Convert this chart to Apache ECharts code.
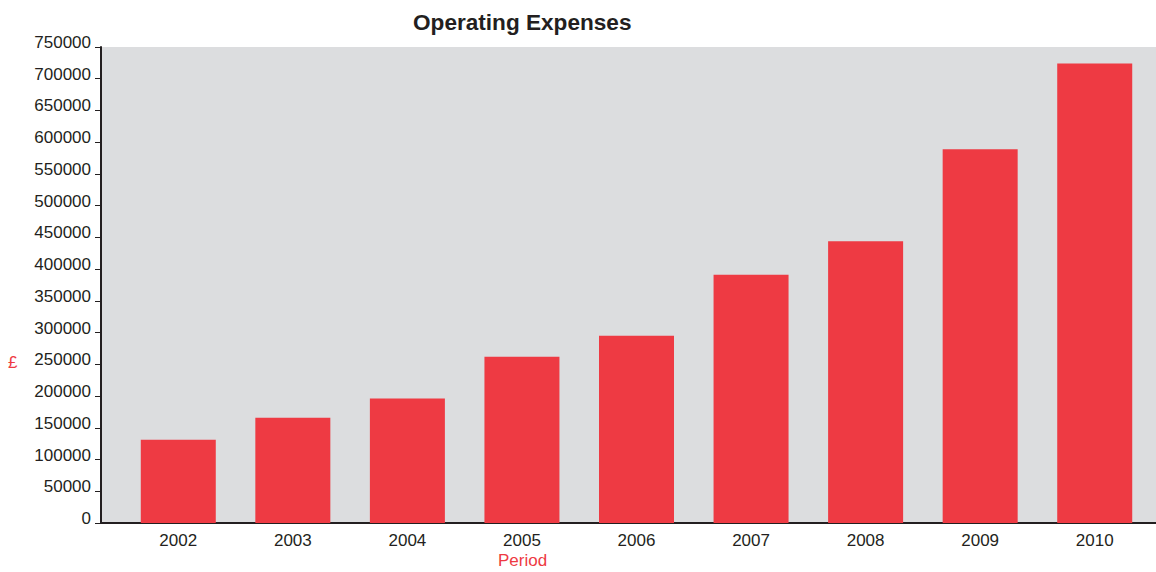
<!DOCTYPE html>
<html>
<head>
<meta charset="utf-8">
<title>Operating Expenses</title>
<script src="https://cdn.jsdelivr.net/npm/echarts@6/dist/echarts.min.js"></script>
<style>
  html, body { margin: 0; padding: 0; background: #ffffff; }
  #chart { width: 1156px; height: 572px; }
</style>
</head>
<body>
<div id="chart"></div>
<script>
// Operating expenses per year, in pounds
const periods = ['2002', '2003', '2004', '2005', '2006', '2007', '2008', '2009', '2010'];
const expenses = [131000, 166000, 196000, 262000, 295000, 391000, 444000, 589000, 724000];
const chartTitle = 'Operating Expenses';
const xAxisTitle = 'Period';
const yAxisTitle = '£';

const FONT = '"Liberation Sans", Arial, Helvetica, sans-serif';
const INK = '#231f20';
const RED = '#ee3a43';
const PANEL = '#dcdddf';
const Y_MAX = 750000;
const Y_STEP = 50000;

const chart = echarts.init(document.getElementById('chart'), null, { renderer: 'svg' });

chart.setOption({
  animation: false,
  backgroundColor: '#ffffff',
  title: {
    text: chartTitle,
    left: 408,
    top: 6,
    textStyle: { fontFamily: FONT, fontSize: 22.6, fontWeight: 'bold', color: INK }
  },
  grid: [
    // grey panel carrying the value axis and the baseline
    { left: 101, right: 0, top: 47, bottom: 49, show: true, backgroundColor: PANEL, borderWidth: 0 },
    // band layout for the bars
    { left: 121, right: 4, top: 47, bottom: 49, show: false }
  ],
  xAxis: [
    {
      gridIndex: 0, type: 'value', min: 0, max: 1,
      axisLine: { show: true, lineStyle: { color: INK, width: 2 } },
      axisTick: { show: false }, axisLabel: { show: false }, splitLine: { show: false }
    },
    {
      gridIndex: 1, type: 'category', data: periods,
      axisLine: { show: false }, axisTick: { show: false }, splitLine: { show: false },
      axisLabel: { fontFamily: FONT, fontSize: 17, color: INK, margin: 9 }
    }
  ],
  yAxis: [
    {
      gridIndex: 0, type: 'value', min: 0, max: Y_MAX, interval: Y_STEP,
      axisLine: { show: true, lineStyle: { color: INK, width: 2 } },
      axisTick: { show: true, length: 6, lineStyle: { color: INK, width: 1 } },
      axisLabel: {
        fontFamily: FONT, fontSize: 17, color: INK, margin: 10,
        verticalAlign: 'bottom', lineHeight: 9,
        formatter: (v) => String(v)
      },
      splitLine: { show: false }
    },
    {
      gridIndex: 1, type: 'value', min: 0, max: Y_MAX, show: false, splitLine: { show: false }
    }
  ],
  series: [
    {
      type: 'bar',
      xAxisIndex: 1,
      yAxisIndex: 1,
      data: expenses,
      barWidth: 75,
      itemStyle: { color: RED },
      silent: true
    }
  ],
  graphic: [
    {
      type: 'text', left: 498, top: 552,
      style: { text: xAxisTitle, fill: RED, font: '17px ' + FONT }
    },
    {
      type: 'text', left: 8, top: 354,
      style: { text: yAxisTitle, fill: RED, font: '17px ' + FONT }
    }
  ]
});
</script>
</body>
</html>
